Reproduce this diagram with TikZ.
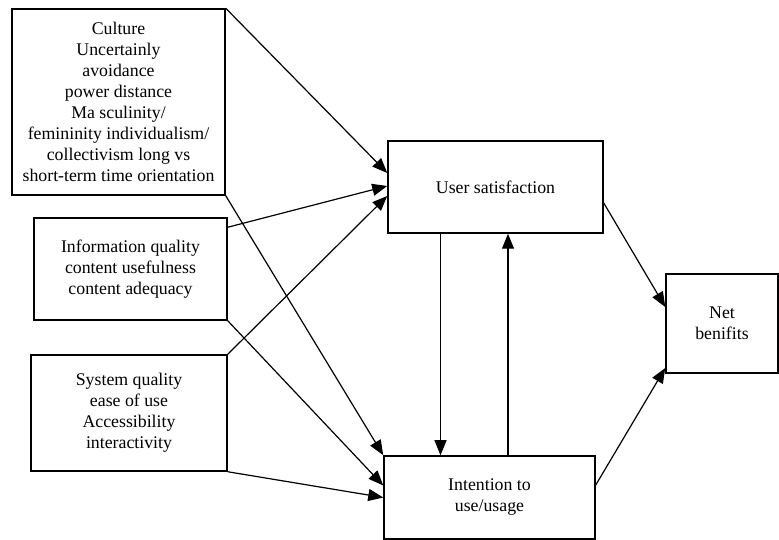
\documentclass[tikz,border=0pt]{standalone}
\usepackage{fontspec}
\setmainfont{Liberation Serif}
\usetikzlibrary{arrows.meta}
\begin{document}
\begin{tikzpicture}[x=1pt,y=1pt,>={Triangle[length=15pt,width=12pt]},line width=1.2pt,
    font=\fontsize{17.8}{21}\selectfont,
    box/.style={draw,line width=1.5pt,align=center,inner sep=0pt}]
  \useasboundingbox (0,0) rectangle (779,540);
  % factors
  \node[box,minimum width=213pt,minimum height=186pt] (cult) at (118.5,438) {Culture\\Uncertainly\\avoidance\\power distance\\Ma sculinity/\\femininity individualism/\\collectivism long vs\\short-term time orientation};
  \node[box,minimum width=193pt,minimum height=102pt] (info) at (130.5,271) {Information quality\\content usefulness\\content adequacy};
  \node[box,minimum width=196pt,minimum height=116pt] (sysq) at (129,127) {System quality\\ease of use\\Accessibility\\interactivity};
  % outcomes
  \node[box,minimum width=215pt,minimum height=92pt] (usat) at (495.5,353) {User satisfaction};
  \node[box,minimum width=211pt,minimum height=83pt] (intn) at (489.5,42.5) {Intention to\\use/usage};
  \node[box,minimum width=112pt,minimum height=99pt] (net) at (722,216.5) {Net\\benifits};
  \draw[->] (cult.north east) -- ([yshift=14pt]usat.west);
  \draw[->] ([yshift=-10pt]info.north east) -- ([yshift=1pt]usat.west);
  \draw[->] (sysq.north east) -- ([yshift=-9pt]usat.west);
  \draw[->] (cult.south east) -- (intn.north west);
  \draw[->] (info.south east) -- ([yshift=12pt]intn.west);
  \draw[->] (sysq.south east) -- (intn.west);
  \draw[->] ([xshift=-55pt]usat.south) -- ([xshift=-55pt]usat.south |- intn.north);
  \draw[->] ([xshift=18.5pt]intn.north) -- ([xshift=18.5pt]intn.north |- usat.south);
  \draw[->] ([yshift=-16pt]usat.east) -- ([yshift=16.5pt]net.west);
  \draw[->] ([yshift=12.5pt]intn.east) -- ([yshift=-44.5pt]net.west);
\end{tikzpicture}
\end{document}
